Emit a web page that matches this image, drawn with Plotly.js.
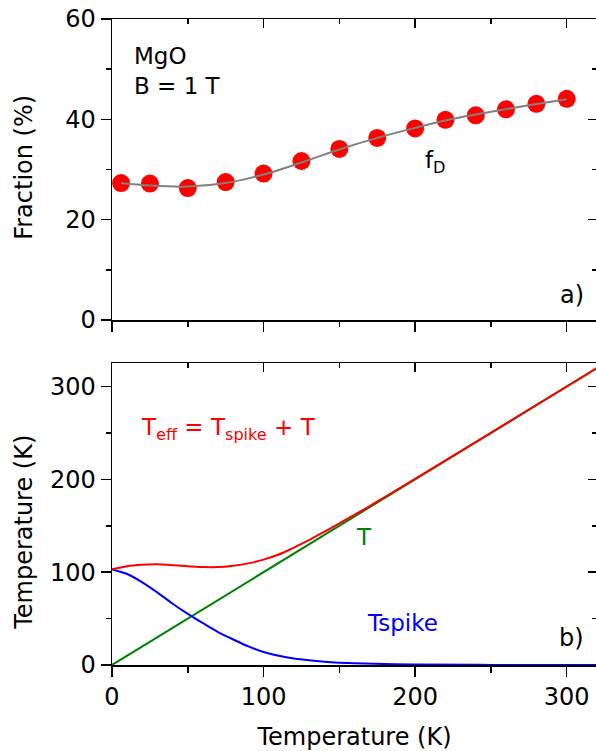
<!DOCTYPE html>
<html>
<head>
<meta charset="utf-8">
<script src="https://cdn.plot.ly/plotly-3.0.1.min.js"></script>
<style>
html, body { margin: 0; padding: 0; overflow: hidden; background: #fff; }
#chart { width: 600px; height: 751px; }
</style>
</head>
<body>
<div id="chart"></div>
<script>
// ---- Panel a) : fraction f_D vs temperature ----
const fracT = [6, 25, 50, 75, 100, 125, 150, 175, 200, 220, 240, 260, 280, 300];
const fracVal = [27.3, 27.2, 26.3, 27.5, 29.2, 31.7, 34.1, 36.3, 38.2, 39.9, 40.8, 42.0, 43.1, 44.1];
const fitT = [6, 25, 50, 75, 100, 125, 150, 175, 200, 225, 250, 275, 300];
const fitVal = [27.3, 26.8, 26.6, 27.3, 29.0, 31.4, 34.0, 36.3, 38.3, 40.1, 41.5, 42.8, 44.0];

// ---- Panel b) : temperatures ----
const lineT = [0, 320];
const lineVal = [0, 320];
const spikeT = [0, 10, 20, 30, 40, 50, 60, 70, 80, 90, 100, 110, 120, 130, 140, 150, 160, 180, 200, 250, 320];
const spikeVal = [103, 98, 89, 78, 66, 55, 45, 35.5, 27.5, 20, 14, 10, 7, 5, 3.5, 2.5, 1.8, 1, 0.5, 0.1, 0];
const effT = [0, 10, 20, 30, 40, 50, 60, 70, 80, 90, 100, 110, 120, 130, 140, 150, 160, 170, 180, 200, 250, 320];
const effVal = [103, 106.5, 108, 108.5, 107.5, 106.5, 105.5, 105.5, 107, 109.5, 113.5, 119, 126.5, 134.5, 143.5, 152.5, 161.8, 171.2, 181, 200.5, 250.1, 320];

const FONT = 'DejaVu Sans, Verdana, sans-serif';

const traces = [
  {x: fracT, y: fracVal, xaxis: 'x', yaxis: 'y', mode: 'markers', type: 'scatter',
   marker: {color: '#ff0000', size: 18}, showlegend: false, hoverinfo: 'skip'},
  {x: fitT, y: fitVal, xaxis: 'x', yaxis: 'y', mode: 'lines', type: 'scatter',
   line: {color: '#808080', width: 2, shape: 'spline'}, showlegend: false, hoverinfo: 'skip'},
  {x: lineT, y: lineVal, xaxis: 'x2', yaxis: 'y2', mode: 'lines', type: 'scatter',
   line: {color: '#008000', width: 2}, showlegend: false, hoverinfo: 'skip'},
  {x: spikeT, y: spikeVal, xaxis: 'x2', yaxis: 'y2', mode: 'lines', type: 'scatter',
   line: {color: '#0000ff', width: 2, shape: 'spline'}, showlegend: false, hoverinfo: 'skip'},
  {x: effT, y: effVal, xaxis: 'x2', yaxis: 'y2', mode: 'lines', type: 'scatter',
   line: {color: '#ff0000', width: 2, shape: 'spline'}, showlegend: false, hoverinfo: 'skip'},
  // empty traces to register the mirror axes
  {x: [], y: [], xaxis: 'x3', yaxis: 'y', type: 'scatter', showlegend: false, hoverinfo: 'skip'},
  {x: [], y: [], xaxis: 'x', yaxis: 'y3', type: 'scatter', showlegend: false, hoverinfo: 'skip'},
  {x: [], y: [], xaxis: 'x4', yaxis: 'y2', type: 'scatter', showlegend: false, hoverinfo: 'skip'},
  {x: [], y: [], xaxis: 'x2', yaxis: 'y4', type: 'scatter', showlegend: false, hoverinfo: 'skip'}
];

const tickFont = {family: FONT, size: 24, color: '#000'};
function baseAxis(extra) {
  return Object.assign({
    showline: true, linecolor: '#000', linewidth: 1.5,
    showgrid: false, zeroline: false,
    ticks: 'outside', ticklen: 10, tickwidth: 1.5, tickcolor: '#000',
    tickfont: tickFont, fixedrange: true
  }, extra);
}

const topDom = [0.534, 1];
const botDom = [0, 0.467];

const layout = {
  width: 600, height: 751,
  margin: {l: 112, r: 3, t: 19, b: 86},
  paper_bgcolor: '#fff', plot_bgcolor: '#fff',
  font: {family: FONT, color: '#000'},
  showlegend: false,
  xaxis: baseAxis({domain: [0, 1], anchor: 'y', range: [0, 320], tick0: 0, dtick: 100,
    showticklabels: false,
    minor: {dtick: 50, tick0: 0, ticks: 'outside', ticklen: 5, tickwidth: 1.5, tickcolor: '#000'}}),
  yaxis: baseAxis({domain: topDom, anchor: 'x', range: [0, 60], tick0: 0, dtick: 20,
    minor: {dtick: 10, tick0: 0, ticks: 'outside', ticklen: 5, tickwidth: 1.5, tickcolor: '#000'}}),
  xaxis3: baseAxis({overlaying: 'x', side: 'top', anchor: 'y', range: [0, 320], tick0: 0, dtick: 100,
    ticks: 'inside', ticklen: 9, showticklabels: false,
    minor: {dtick: 50, tick0: 0, ticks: 'inside', ticklen: 5, tickwidth: 1.5, tickcolor: '#000'}}),
  yaxis3: baseAxis({overlaying: 'y', side: 'right', anchor: 'x', range: [0, 60], tick0: 0, dtick: 20,
    ticks: 'inside', ticklen: 9, showticklabels: false,
    minor: {dtick: 10, tick0: 0, ticks: 'inside', ticklen: 5, tickwidth: 1.5, tickcolor: '#000'}}),
  xaxis2: baseAxis({domain: [0, 1], anchor: 'y2', range: [0, 320], tick0: 0, dtick: 100,
    title: {text: 'Temperature (K)', font: {family: FONT, size: 24, color: '#000'}, standoff: 18},
    minor: {dtick: 50, tick0: 0, ticks: 'outside', ticklen: 6, tickwidth: 1.5, tickcolor: '#000'}}),
  yaxis2: baseAxis({domain: botDom, anchor: 'x2', range: [0, 325], tick0: 0, dtick: 100,
    minor: {dtick: 50, tick0: 0, ticks: 'outside', ticklen: 5, tickwidth: 1.5, tickcolor: '#000'}}),
  xaxis4: baseAxis({overlaying: 'x2', side: 'top', anchor: 'y2', range: [0, 320], tick0: 0, dtick: 100,
    ticks: 'inside', ticklen: 9, showticklabels: false,
    minor: {dtick: 50, tick0: 0, ticks: 'inside', ticklen: 5, tickwidth: 1.5, tickcolor: '#000'}}),
  yaxis4: baseAxis({overlaying: 'y2', side: 'right', anchor: 'x2', range: [0, 325], tick0: 0, dtick: 100,
    ticks: 'inside', ticklen: 9, showticklabels: false,
    minor: {dtick: 50, tick0: 0, ticks: 'inside', ticklen: 5, tickwidth: 1.5, tickcolor: '#000'}}),
  annotations: [
    {text: 'Fraction (%)', textangle: -90, xref: 'paper', yref: 'paper', x: -0.183, y: 0.77,
     xanchor: 'center', yanchor: 'middle', showarrow: false, font: {family: FONT, size: 24, color: '#000'}},
    {text: 'Temperature (K)', textangle: -90, xref: 'paper', yref: 'paper', x: -0.183, y: 0.205,
     xanchor: 'center', yanchor: 'middle', showarrow: false, font: {family: FONT, size: 24, color: '#000'}},
    {text: 'MgO', xref: 'x', yref: 'y', x: 13, y: 52.6, xanchor: 'left', yanchor: 'middle',
     showarrow: false, font: {family: FONT, size: 23, color: '#000'}},
    {text: 'B = 1 T', xref: 'x', yref: 'y', x: 13, y: 46.6, xanchor: 'left', yanchor: 'middle',
     showarrow: false, font: {family: FONT, size: 23, color: '#000'}},
    {text: 'f<sub>D</sub>', xref: 'x', yref: 'y', x: 205, y: 31.5, xanchor: 'left', yanchor: 'middle',
     showarrow: false, font: {family: FONT, size: 23, color: '#000'}},
    {text: 'a)', xref: 'x', yref: 'y', x: 313, y: 5, xanchor: 'right', yanchor: 'middle',
     showarrow: false, font: {family: FONT, size: 24, color: '#000'}},
    {text: 'T<sub>eff</sub> = T<sub>spike</sub> + T', xref: 'x2', yref: 'y2', x: 18, y: 254,
     xanchor: 'left', yanchor: 'middle', showarrow: false, font: {family: FONT, size: 23, color: '#ff0000'}},
    {text: 'T', xref: 'x2', yref: 'y2', x: 166, y: 138, xanchor: 'center', yanchor: 'middle',
     showarrow: false, font: {family: FONT, size: 23, color: '#008000'}},
    {text: 'Tspike', xref: 'x2', yref: 'y2', x: 191.5, y: 45, xanchor: 'center', yanchor: 'middle',
     showarrow: false, font: {family: FONT, size: 23, color: '#0000ff'}},
    {text: 'b)', xref: 'x2', yref: 'y2', x: 313, y: 29, xanchor: 'right', yanchor: 'middle',
     showarrow: false, font: {family: FONT, size: 24, color: '#000'}}
  ]
};

Plotly.newPlot('chart', traces, layout, {staticPlot: true, displayModeBar: false});
</script>
</body>
</html>
